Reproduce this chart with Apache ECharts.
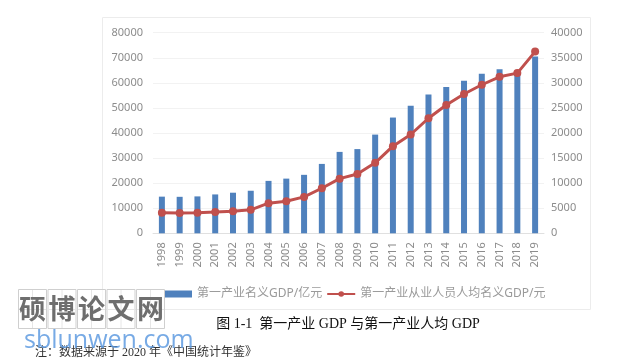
<!DOCTYPE html>
<html><head><meta charset="utf-8">
<script src="https://cdn.jsdelivr.net/npm/echarts@6/dist/echarts.min.js"></script>
<style>html,body{margin:0;padding:0;background:#fff}#c{width:629px;height:361px}</style>
</head><body><div id="c"></div>
<script>
const years = ['1998','1999','2000','2001','2002','2003','2004','2005','2006','2007','2008','2009','2010','2011','2012','2013','2014','2015','2016','2017','2018','2019'];
const gdp = [14618.7,14549.0,14717.4,15502.5,16190.2,16970.2,20904.3,21806.7,23317.0,27674.1,32464.1,33583.8,39362.6,46163.1,50902.3,55329.1,58343.5,60862.1,63672.8,65467.6,64745.2,70466.7];
const perCapita = [4100,4070,4080,4230,4420,4680,6000,6400,7260,8980,10900,11830,14050,17380,19700,22940,25590,27780,29620,31210,31940,36230];
const seriesNames = ['第一产业名义GDP/亿元','第一产业从业人员人均名义GDP/元'];
const captionText = '图 1-1  第一产业 GDP 与第一产业人均 GDP';
const noteText = '注：数据来源于 2020 年《中国统计年鉴》';
const wmChars = ['硕','博','论','文','网'];
const wmUrl = 'sblunwen.com';

const chart = echarts.init(document.getElementById('c'), null, {renderer:'canvas'});
const axisFont = {color:'#8c8c8c', fontSize:11, fontFamily:'Noto Sans, Noto Sans CJK SC'};

const graphics = [
  {type:'rect', shape:{x:102.5,y:17.5,width:488,height:292}, style:{fill:'none',stroke:'#ececec',lineWidth:1}, z:-1},
  {type:'text', style:{x:348, y:324, text:captionText, fill:'#111', font:'14px "Liberation Serif", "Noto Sans CJK SC"', textAlign:'center', textVerticalAlign:'middle'}},
  {type:'text', style:{x:35, y:353, text:noteText, fill:'#333', font:'12px "Liberation Serif", "Noto Sans CJK SC"', textAlign:'left', textVerticalAlign:'middle'}}
];
wmChars.forEach((ch,i)=>{
  const x0 = 18 + i*29.5;
  graphics.push({type:'rect', shape:{x:x0+0.5,y:289.5,width:28,height:39}, style:{fill:'rgba(255,255,255,0.6)',stroke:'#cfcfcf',lineWidth:1}, z:50});
  graphics.push({type:'line', shape:{x1:x0+14.5,y1:290,x2:x0+14.5,y2:328}, style:{stroke:'#e6e6e6',lineWidth:1}, z:50});
  graphics.push({type:'line', shape:{x1:x0+1,y1:309.5,x2:x0+28,y2:309.5}, style:{stroke:'#e6e6e6',lineWidth:1}, z:50});
  graphics.push({type:'text', style:{x:x0+14.5, y:309, text:ch, fill:'#6e6e6e', font:'bold 27px "Noto Sans CJK SC"', textAlign:'center', textVerticalAlign:'middle'}, z:51});
});
graphics.push({type:'text', style:{x:24, y:341, text:wmUrl, fill:'rgba(95,155,225,0.85)', font:'25px "Open Sans", "DejaVu Sans"', textAlign:'left', textVerticalAlign:'middle'}, z:51});

const plain = v => String(v);

chart.setOption({
  animation:false,
  grid:{left:153, right:85, top:32.7, bottom:127.7, containLabel:false},
  legend:{
    left:159, top:283, itemWidth:28, itemHeight:7, itemGap:4,
    textStyle:{color:'#9a9a9a', fontSize:12, fontFamily:'Noto Sans, Noto Sans CJK SC'},
    data:[{name:seriesNames[0], icon:'rect'}, {name:seriesNames[1]}]
  },
  xAxis:{
    type:'category', data:years,
    axisLine:{show:true, lineStyle:{color:'#e0e0e0'}},
    axisTick:{show:false},
    axisLabel:Object.assign({rotate:90, margin:9, interval:0}, axisFont)
  },
  yAxis:[
    {type:'value', min:0, max:80000, interval:10000,
     axisLine:{show:false}, axisTick:{show:false},
     splitLine:{lineStyle:{color:'#f2f2f2'}},
     axisLabel:Object.assign({margin:10, formatter:plain}, axisFont)},
    {type:'value', min:0, max:40000, interval:5000,
     axisLine:{show:false}, axisTick:{show:false},
     splitLine:{show:false},
     axisLabel:Object.assign({margin:7, formatter:plain}, axisFont)}
  ],
  series:[
    {name:seriesNames[0], type:'bar', data:gdp, barWidth:6, itemStyle:{color:'#4f81bd'}, yAxisIndex:0},
    {name:seriesNames[1], type:'line', data:perCapita, yAxisIndex:1, symbol:'circle', symbolSize:8,
     lineStyle:{color:'#c0504d', width:3}, itemStyle:{color:'#c0504d'}}
  ],
  graphic:graphics
});
</script></body></html>
